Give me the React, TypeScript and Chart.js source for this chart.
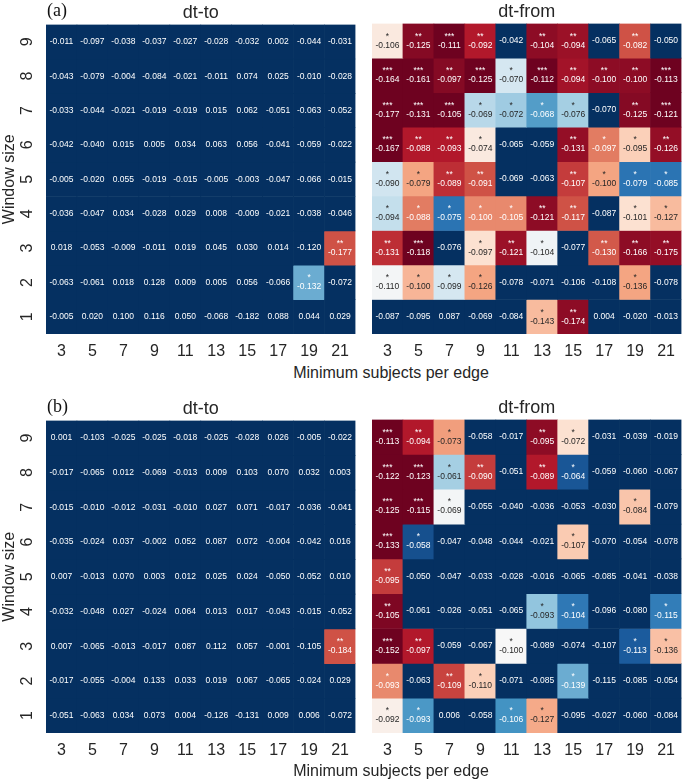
import React, { useEffect, useRef } from 'react';
import { Chart, registerables } from 'chart.js';
Chart.register(...registerables);

const minSubjects = [3, 5, 7, 9, 11, 13, 15, 17, 19, 21];
const windowSizes = [9, 8, 7, 6, 5, 4, 3, 2, 1];
const n = null;

// (a) dt-to correlations (rows: window size 9 -> 1)
const rA_to = [
  [-0.011, -0.097, -0.038, -0.037, -0.027, -0.028, -0.032, 0.002, -0.044, -0.031],
  [-0.043, -0.079, -0.004, -0.084, -0.021, -0.011, 0.074, 0.025, -0.010, -0.028],
  [-0.033, -0.044, -0.021, -0.019, -0.019, 0.015, 0.062, -0.051, -0.063, -0.052],
  [-0.042, -0.040, 0.015, 0.005, 0.034, 0.063, 0.056, -0.041, -0.059, -0.022],
  [-0.005, -0.020, 0.055, -0.019, -0.015, -0.005, -0.003, -0.047, -0.066, -0.015],
  [-0.036, -0.047, 0.034, -0.028, 0.029, 0.008, -0.009, -0.021, -0.038, -0.046],
  [0.018, -0.053, -0.009, -0.011, 0.019, 0.045, 0.030, 0.014, -0.120, -0.177],
  [-0.063, -0.061, 0.018, 0.128, 0.009, 0.005, 0.056, -0.066, -0.132, -0.072],
  [-0.005, 0.020, 0.100, 0.116, 0.050, -0.068, -0.182, 0.088, 0.044, 0.029],
];
const pA_to = [
  [n, n, n, n, n, n, n, n, n, n],
  [n, n, n, n, n, n, n, n, n, n],
  [n, n, n, n, n, n, n, n, n, n],
  [n, n, n, n, n, n, n, n, n, n],
  [n, n, n, n, n, n, n, n, n, n],
  [n, n, n, n, n, n, n, n, n, n],
  [n, n, n, n, n, n, n, n, n, 0.009],
  [n, n, n, n, n, n, n, n, 0.0375, n],
  [n, n, n, n, n, n, n, n, n, n],
];

// (a) dt-from
const rA_from = [
  [-0.106, -0.125, -0.111, -0.092, -0.042, -0.104, -0.094, -0.065, -0.082, -0.050],
  [-0.164, -0.161, -0.097, -0.125, -0.070, -0.112, -0.094, -0.100, -0.100, -0.113],
  [-0.177, -0.131, -0.105, -0.069, -0.072, -0.068, -0.076, -0.070, -0.125, -0.121],
  [-0.167, -0.088, -0.093, -0.074, -0.065, -0.059, -0.131, -0.097, -0.095, -0.126],
  [-0.090, -0.079, -0.089, -0.091, -0.069, -0.063, -0.107, -0.100, -0.079, -0.085],
  [-0.094, -0.088, -0.075, -0.100, -0.105, -0.121, -0.117, -0.087, -0.101, -0.127],
  [-0.131, -0.118, -0.076, -0.097, -0.121, -0.104, -0.077, -0.130, -0.166, -0.175],
  [-0.110, -0.100, -0.099, -0.126, -0.078, -0.071, -0.106, -0.108, -0.136, -0.078],
  [-0.087, -0.095, 0.087, -0.069, -0.084, -0.143, -0.174, 0.004, -0.020, -0.013],
];
const pA_from = [
  [0.0225, 0.002, 0.0005, 0.005, n, 0.0025, 0.0035, n, 0.009, n],
  [0.0005, 0.0005, 0.002, 0.0005, 0.0295, 0.0005, 0.004, 0.0025, 0.0025, 0.0005],
  [0.0005, 0.0005, 0.0005, 0.032, 0.034, 0.039, 0.0335, n, 0.002, 0.0005],
  [0.0005, 0.005, 0.005, 0.0225, n, n, 0.003, 0.012, 0.019, 0.003],
  [0.03, 0.015, 0.0065, 0.009, n, n, 0.0075, 0.015, 0.0435, 0.0435],
  [0.031, 0.012, 0.0435, 0.013, 0.013, 0.0025, 0.009, n, 0.021, 0.017],
  [0.0065, 0.0005, n, 0.021, 0.0035, 0.026, n, 0.0095, 0.0025, 0.003],
  [0.0255, 0.0165, 0.0295, 0.015, n, n, n, n, 0.015, n],
  [n, n, n, n, n, 0.017, 0.0025, n, n, n],
];

// (b) dt-to
const rB_to = [
  [0.001, -0.103, -0.025, -0.025, -0.018, -0.025, -0.028, 0.026, -0.005, -0.022],
  [-0.017, -0.065, 0.012, -0.069, -0.013, 0.009, 0.103, 0.070, 0.032, 0.003],
  [-0.015, -0.010, -0.012, -0.031, -0.010, 0.027, 0.071, -0.017, -0.036, -0.041],
  [-0.035, -0.024, 0.037, -0.002, 0.052, 0.087, 0.072, -0.004, -0.042, 0.016],
  [0.007, -0.013, 0.070, 0.003, 0.012, 0.025, 0.024, -0.050, -0.052, 0.010],
  [-0.032, -0.048, 0.027, -0.024, 0.064, 0.013, 0.017, -0.043, -0.015, -0.052],
  [0.007, -0.065, -0.013, -0.017, 0.087, 0.112, 0.057, -0.001, -0.105, -0.184],
  [-0.017, -0.055, -0.004, 0.133, 0.033, 0.019, 0.067, -0.065, -0.024, 0.029],
  [-0.051, -0.063, 0.034, 0.073, 0.004, -0.126, -0.131, 0.009, 0.006, -0.072],
];
const pB_to = [
  [n, n, n, n, n, n, n, n, n, n],
  [n, n, n, n, n, n, n, n, n, n],
  [n, n, n, n, n, n, n, n, n, n],
  [n, n, n, n, n, n, n, n, n, n],
  [n, n, n, n, n, n, n, n, n, n],
  [n, n, n, n, n, n, n, n, n, n],
  [n, n, n, n, n, n, n, n, n, 0.009],
  [n, n, n, n, n, n, n, n, n, n],
  [n, n, n, n, n, n, n, n, n, n],
];

// (b) dt-from
const rB_from = [
  [-0.113, -0.094, -0.073, -0.058, -0.017, -0.095, -0.072, -0.031, -0.039, -0.019],
  [-0.122, -0.123, -0.061, -0.090, -0.051, -0.089, -0.064, -0.059, -0.060, -0.067],
  [-0.125, -0.115, -0.069, -0.055, -0.040, -0.036, -0.053, -0.030, -0.084, -0.079],
  [-0.133, -0.058, -0.047, -0.048, -0.044, -0.021, -0.107, -0.070, -0.054, -0.078],
  [-0.095, -0.050, -0.047, -0.033, -0.028, -0.016, -0.065, -0.085, -0.041, -0.038],
  [-0.105, -0.061, -0.026, -0.051, -0.065, -0.093, -0.104, -0.096, -0.080, -0.115],
  [-0.152, -0.097, -0.059, -0.067, -0.100, -0.089, -0.074, -0.107, -0.113, -0.136],
  [-0.093, -0.063, -0.109, -0.110, -0.071, -0.085, -0.139, -0.115, -0.085, -0.054],
  [-0.092, -0.093, 0.006, -0.058, -0.106, -0.127, -0.095, -0.027, -0.060, -0.084],
];
const pB_from = [
  [0.0005, 0.005, 0.0145, n, n, 0.0025, 0.021, n, n, n],
  [0.0005, 0.0005, 0.0335, 0.0075, n, 0.005, 0.0465, n, n, n],
  [0.0005, 0.0005, 0.0255, n, n, n, n, n, 0.018, n],
  [0.0005, 0.047, n, n, n, n, 0.0185, n, n, n],
  [0.0075, n, n, n, n, n, n, n, n, n],
  [0.0015, n, n, n, n, 0.035, 0.043, n, n, 0.0425],
  [0.0005, 0.005, n, n, 0.025, n, n, n, 0.046, 0.0175],
  [0.013, n, 0.008, 0.019, n, n, 0.0375, n, n, n],
  [0.0235, 0.0395, n, n, 0.04, 0.0155, n, n, n, n],
];

const FONT = "'Liberation Sans', Arial, sans-serif";
const RDBU_R = ['#053061', '#2166ac', '#4393c3', '#92c5de', '#d1e5f0', '#f7f7f7', '#fddbc7', '#f4a582', '#d6604d', '#b2182b', '#67001f'];

function hexRgb(h: string) {
  return [parseInt(h.slice(1, 3), 16), parseInt(h.slice(3, 5), 16), parseInt(h.slice(5, 7), 16)];
}
function cmap(t: number) {
  const tt = Math.max(0, Math.min(1, t)) * 10;
  const i = Math.min(9, Math.floor(tt));
  const f = tt - i;
  const a = hexRgb(RDBU_R[i]);
  const b = hexRgb(RDBU_R[i + 1]);
  return a.map((v, k) => Math.round(v + (b[k] - v) * f));
}
function cellRgb(p: number | null) {
  const t = p == null ? 0 : 1 - p / 0.05;
  return cmap(t);
}
function stars(p: number | null) {
  if (p == null || p >= 0.05) return '';
  if (p < 0.001) return '***';
  if (p < 0.01) return '**';
  return '*';
}
function textColor(rgb: number[]) {
  const lin = rgb.map((v) => {
    const c = v / 255;
    return c <= 0.03928 ? c / 12.92 : Math.pow((c + 0.055) / 1.055, 2.4);
  });
  const L = 0.2126 * lin[0] + 0.7152 * lin[1] + 0.0722 * lin[2];
  return L > 0.408 ? '#262626' : '#ffffff';
}

type HMProps = {
  title: string;
  values: number[][];
  pvals: (number | null)[][];
  showY: boolean;
  left: number;
  top: number;
  width: number;
  height: number;
};

function Heatmap({ title, values, pvals, showY, left, top, width, height }: HMProps) {
  const ref = useRef<HTMLCanvasElement | null>(null);
  useEffect(() => {
    if (!ref.current) return;
    const datasets = windowSizes.map((w, r) => ({
      label: String(w),
      data: minSubjects.map(() => [w - 0.5, w + 0.5]),
      backgroundColor: minSubjects.map((_, c) => {
        const rgb = cellRgb(pvals[r][c]);
        return `rgb(${rgb[0]},${rgb[1]},${rgb[2]})`;
      }),
      borderWidth: 0,
      grouped: false,
      categoryPercentage: 1,
      barPercentage: 1,
    }));
    const annot = {
      id: 'annot',
      afterDatasetsDraw(chart: any) {
        const ctx = chart.ctx;
        ctx.save();
        ctx.textAlign = 'center';
        ctx.textBaseline = 'middle';
        ctx.font = `8.5px ${FONT}`;
        windowSizes.forEach((_, r) => {
          const meta = chart.getDatasetMeta(r);
          meta.data.forEach((bar: any, c: number) => {
            const { x, y, base } = bar.getProps(['x', 'y', 'base'], true);
            const cy = (y + base) / 2;
            const p = pvals[r][c];
            const s = stars(p);
            ctx.fillStyle = textColor(cellRgb(p));
            const txt = values[r][c].toFixed(3);
            if (s) {
              ctx.fillText(s, x, cy - 4.5);
              ctx.fillText(txt, x, cy + 4.5);
            } else {
              ctx.fillText(txt, x, cy);
            }
          });
        });
        ctx.restore();
      },
    };
    const yScale: any = showY
      ? {
          type: 'linear',
          min: 0.5,
          max: 9.5,
          stacked: false,
          grid: { display: false, drawTicks: false },
          border: { display: false },
          afterBuildTicks: (s: any) => {
            s.ticks = windowSizes.map((v) => ({ value: v }));
          },
          ticks: {
            font: { family: FONT, size: 16 },
            color: '#262626',
            minRotation: 90,
            maxRotation: 90,
            crossAlign: 'center',
            padding: 14,
          },
          title: {
            display: true,
            text: 'Window size',
            color: '#262626',
            font: { family: FONT, size: 16 },
            padding: { top: 0, bottom: 0 },
          },
          afterFit: (s: any) => {
            s.width = 46;
          },
        }
      : { type: 'linear', min: 0.5, max: 9.5, stacked: false, display: false };
    const chart = new Chart(ref.current, {
      type: 'bar',
      data: { labels: minSubjects.map(String), datasets: datasets as any },
      options: {
        responsive: false,
        animation: false,
        layout: { padding: 0 },
        plugins: {
          legend: { display: false },
          tooltip: { enabled: false },
          title: {
            display: true,
            text: title,
            fullSize: false,
            color: '#262626',
            font: { family: FONT, size: 18, weight: 'normal' },
            padding: { top: 0, bottom: 1 },
          },
        },
        scales: {
          x: {
            type: 'category',
            offset: true,
            grid: { display: false, drawTicks: false },
            border: { display: false },
            ticks: {
              font: { family: FONT, size: 16 },
              color: '#262626',
              padding: 8,
              minRotation: 0,
              maxRotation: 0,
              autoSkip: false,
            },
            afterFit: (s: any) => {
              s.height = 30;
            },
          },
          y: yScale,
        },
      } as any,
      plugins: [annot],
    });
    return () => chart.destroy();
  }, []);
  return (
    <canvas
      ref={ref}
      width={width}
      height={height}
      style={{ position: 'absolute', left, top, width, height }}
    />
  );
}

const labelStyle: React.CSSProperties = {
  position: 'absolute',
  fontFamily: FONT,
  fontSize: 16,
  lineHeight: '18px',
  color: '#262626',
  whiteSpace: 'nowrap',
  transform: 'translateX(-50%)',
};
const panelStyle: React.CSSProperties = {
  position: 'absolute',
  fontFamily: "'Liberation Serif', 'Times New Roman', serif",
  fontSize: 18,
  lineHeight: '18px',
  color: '#111',
};

export default function App() {
  return (
    <div style={{ position: 'absolute', left: 0, top: 0, width: 685, height: 779, background: '#fff', overflow: 'hidden' }}>
      <Heatmap title="dt-to" values={rA_to} pvals={pA_to} showY left={0} top={1} width={357} height={363} />
      <Heatmap title="dt-from" values={rA_from} pvals={pA_from} showY={false} left={372} top={1} width={311} height={363} />
      <div style={{ ...labelStyle, left: 391, top: 364 }}>Minimum subjects per edge</div>
      <div style={{ ...panelStyle, left: 47, top: 1 }}>(a)</div>

      <Heatmap title="dt-to" values={rB_to} pvals={pB_to} showY left={0} top={397} width={357} height={366} />
      <Heatmap title="dt-from" values={rB_from} pvals={pB_from} showY={false} left={372} top={397} width={311} height={366} />
      <div style={{ ...labelStyle, left: 391, top: 762 }}>Minimum subjects per edge</div>
      <div style={{ ...panelStyle, left: 47, top: 397 }}>(b)</div>
    </div>
  );
}
